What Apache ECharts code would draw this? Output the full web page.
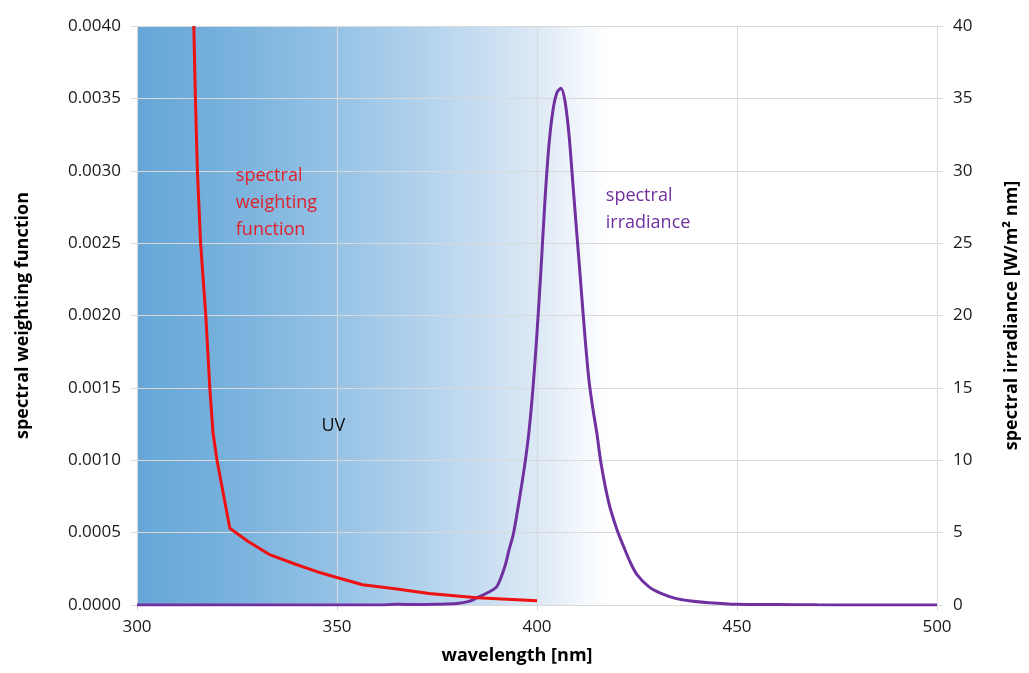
<!doctype html>
<html lang="en">
<head>
    <meta charset="UTF-8">
    <title>spectral weighting function / spectral irradiance</title>
    <script src="https://cdn.jsdelivr.net/npm/echarts@6/dist/echarts.min.js"></script>
    <style>
        html, body {margin: 0; padding: 0; background: #fff;}
        #main {width: 1029px; height: 673px;}
    </style>
</head>
<body>
<div id="main"></div>
<script type="text/javascript">
    // wavelength [nm] / weighting function values (red)
    var weightNm = [314.2, 314.6, 315.1, 315.9, 317.2, 318.2, 319.0, 320.0, 323.2, 327.7, 333.0, 339.8, 345.0, 350.0, 356.4, 365.0, 373.0, 385.0, 400.0];
    var weightVal = [0.0040, 0.0035, 0.0030, 0.0025, 0.0020, 0.0015, 0.00119, 0.00100, 0.00053, 0.00044, 0.00035, 0.00028, 0.00023, 0.00019, 0.00014, 0.00011, 0.00008, 0.00005, 0.00003];

    // wavelength [nm] / spectral irradiance values (purple)
    var irrNm = [300, 360, 365, 370, 375, 380, 383, 385, 388, 390, 392, 393, 394, 395, 396, 397, 398, 399, 400, 401, 402, 403, 404, 405, 406, 407, 408, 409, 410, 411, 412, 413, 414, 415, 416, 418, 420, 422, 423.4, 425, 428, 431, 434.6, 438, 443, 450, 460, 470, 480, 500];
    var irrVal = [0, 0, 0.05, 0.03, 0.05, 0.1, 0.25, 0.5, 0.9, 1.3, 2.7, 3.8, 4.8, 6.3, 8.0, 9.8, 12.0, 15.0, 18.8, 23.2, 28.0, 31.8, 34.2, 35.4, 35.7, 34.8, 32.5, 29.0, 25.5, 22.0, 18.5, 15.5, 13.5, 11.8, 9.8, 7.0, 5.2, 3.8, 2.9, 2.1, 1.25, 0.8, 0.46, 0.3, 0.16, 0.05, 0.03, 0.01, 0, 0];

    // UV band (shaded, fades out to white)
    var uvBand = [300, 418];

    // annotation anchors: [nm, value]
    var weightNote = [324.7, 0.00306];
    var uvNote = [346.1, 0.00133];
    var irrNote = [417.2, 29.2];

    var font = '"Open Sans", "Noto Sans", sans-serif';
    var gridColor = '#d9d9d9';

    function pairs(xs, ys) {
        var out = [];
        for (var i = 0; i < xs.length; i++) {
            out.push([xs[i], ys[i]]);
        }
        return out;
    }

    var myChart = echarts.init(document.getElementById('main'));

    var option = {
        backgroundColor: '#fff',
        animation: false,
        textStyle: {fontFamily: font},
        grid: {left: 137, right: 90, top: 26, bottom: 68},
        xAxis: {
            type: 'value',
            min: 300,
            max: 500,
            interval: 50,
            name: 'wavelength [nm]',
            nameLocation: 'middle',
            nameGap: 42,
            nameTextStyle: {fontSize: 18, fontWeight: 'bold', color: '#000', padding: [0, 40, 0, 0]},
            axisLine: {show: true, lineStyle: {color: gridColor}},
            axisTick: {show: true, length: 6, lineStyle: {color: gridColor}},
            axisLabel: {fontSize: 17, color: '#1a1a1a', margin: 14},
            splitLine: {show: true, lineStyle: {color: gridColor}}
        },
        yAxis: [
            {
                type: 'value',
                min: 0,
                max: 0.004,
                interval: 0.0005,
                name: 'spectral weighting function',
                nameLocation: 'middle',
                nameGap: 105,
                nameTextStyle: {fontSize: 18, fontWeight: 'bold', color: '#000'},
                axisLine: {show: false},
                axisTick: {show: true, length: 6, lineStyle: {color: gridColor}},
                axisLabel: {
                    fontSize: 17, color: '#1a1a1a', margin: 16,
                    formatter: function (v) { return v.toFixed(4); }
                },
                splitLine: {show: true, lineStyle: {color: gridColor}}
            },
            {
                type: 'value',
                min: 0,
                max: 40,
                interval: 5,
                name: 'spectral irradiance [W/m² nm]',
                nameLocation: 'middle',
                nameGap: 66,
                nameRotate: 90,
                nameTextStyle: {fontSize: 18, fontWeight: 'bold', color: '#000'},
                axisLine: {show: false},
                axisTick: {show: true, length: 6, lineStyle: {color: gridColor}},
                axisLabel: {fontSize: 17, color: '#1a1a1a', margin: 16},
                splitLine: {show: false}
            }
        ],
        series: [
            {
                // shaded UV region, kept under the grid lines
                name: 'UV',
                type: 'line',
                z: -1,
                silent: true,
                data: [],
                markArea: {
                    silent: true,
                    z: -1,
                    itemStyle: {
                        opacity: 1,
                        color: new echarts.graphic.LinearGradient(0, 0, 1, 0, [
                            {offset: 0, color: '#66a6d7'},
                            {offset: 0.2, color: '#78b2dd'},
                            {offset: 0.42, color: '#95c2e5'},
                            {offset: 0.65, color: '#b9d6ee'},
                            {offset: 0.85, color: '#dde9f5'},
                            {offset: 0.93, color: '#f0f5fb'},
                            {offset: 1, color: '#ffffff'}
                        ])
                    },
                    data: [[{xAxis: uvBand[0]}, {xAxis: uvBand[1]}]]
                }
            },
            {
                name: 'spectral irradiance',
                type: 'line',
                yAxisIndex: 1,
                data: pairs(irrNm, irrVal),
                showSymbol: false,
                smooth: 0.3,
                lineStyle: {color: '#7030a0', width: 3},
                markPoint: {
                    symbolSize: 0,
                    data: [{coord: irrNote}],
                    label: {
                        show: true,
                        position: [0, 0],
                        align: 'left',
                        verticalAlign: 'top',
                        formatter: 'spectral\nirradiance',
                        fontSize: 18,
                        lineHeight: 27,
                        color: '#7030a0'
                    }
                }
            },
            {
                name: 'spectral weighting function',
                type: 'line',
                data: pairs(weightNm, weightVal),
                showSymbol: false,
                lineStyle: {color: '#ee1111', width: 3},
                markPoint: {
                    symbolSize: 0,
                    data: [
                        {
                            coord: weightNote,
                            label: {formatter: 'spectral\nweighting\nfunction', color: '#e0202a'}
                        },
                        {
                            coord: uvNote,
                            label: {formatter: 'UV', color: '#111'}
                        }
                    ],
                    label: {
                        show: true,
                        position: [0, 0],
                        align: 'left',
                        verticalAlign: 'top',
                        fontSize: 18,
                        lineHeight: 27
                    }
                }
            }
        ]
    };

    myChart.setOption(option);
</script>
</body>
</html>
